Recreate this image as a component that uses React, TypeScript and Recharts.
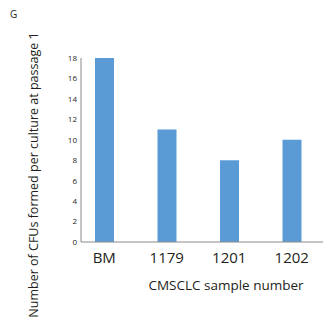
import { BarChart, Bar, XAxis, YAxis, Label } from "recharts";

const samples = ["BM", "1179", "1201", "1202"];
const cfuCounts = [18, 11, 8, 10];
const yTicks = [0, 2, 4, 6, 8, 10, 12, 14, 16, 18];

const data = samples.map((sample, i) => ({ sample, cfu: cfuCounts[i] }));

const font = "'Open Sans', sans-serif";
const ink = "#231f20";

export default function App() {
    return (
        <div style={{ position: "absolute", left: 0, top: 0, width: 323, height: 334, background: "#fff", fontFamily: font }}>
            <div style={{ position: "absolute", left: 10, top: 7, fontSize: 10, color: ink }}>G</div>
            <BarChart
                width={323}
                height={334}
                data={data}
                margin={{ top: 58, right: 0, bottom: 0, left: 0 }}
                barCategoryGap={0}
            >
                <XAxis
                    dataKey="sample"
                    axisLine={{ stroke: "#8a8a8a", strokeWidth: 1 }}
                    tickLine={false}
                    tick={{ fill: ink, fontSize: 15, fontFamily: font }}
                    tickMargin={4}
                    height={92}
                    padding={{ left: -8, right: 0 }}
                >
                    <Label
                        content={() => (
                            <text x={226} y={290} textAnchor="middle" fill={ink} fontSize={13.5} fontFamily={font}>
                                CMSCLC sample number
                            </text>
                        )}
                    />
                </XAxis>
                <YAxis
                    domain={[0, 18]}
                    ticks={yTicks}
                    interval={0}
                    axisLine={{ stroke: "#8a8a8a", strokeWidth: 1 }}
                    tickLine={false}
                    tickSize={3}
                    tickMargin={1}
                    width={81}
                    tick={{ fill: ink, fontSize: 8, fontFamily: font }}
                >
                    <Label
                        content={() => (
                            <text
                                x={38}
                                y={175}
                                transform="rotate(-90, 38, 175)"
                                textAnchor="middle"
                                fill={ink}
                                fontSize={12.5}
                                fontFamily={font}
                            >
                                Number of CFUs formed per culture at passage 1
                            </text>
                        )}
                    />
                </YAxis>
                <Bar dataKey="cfu" fill="#5b9bd5" barSize={19} isAnimationActive={false} />
            </BarChart>
        </div>
    );
}
